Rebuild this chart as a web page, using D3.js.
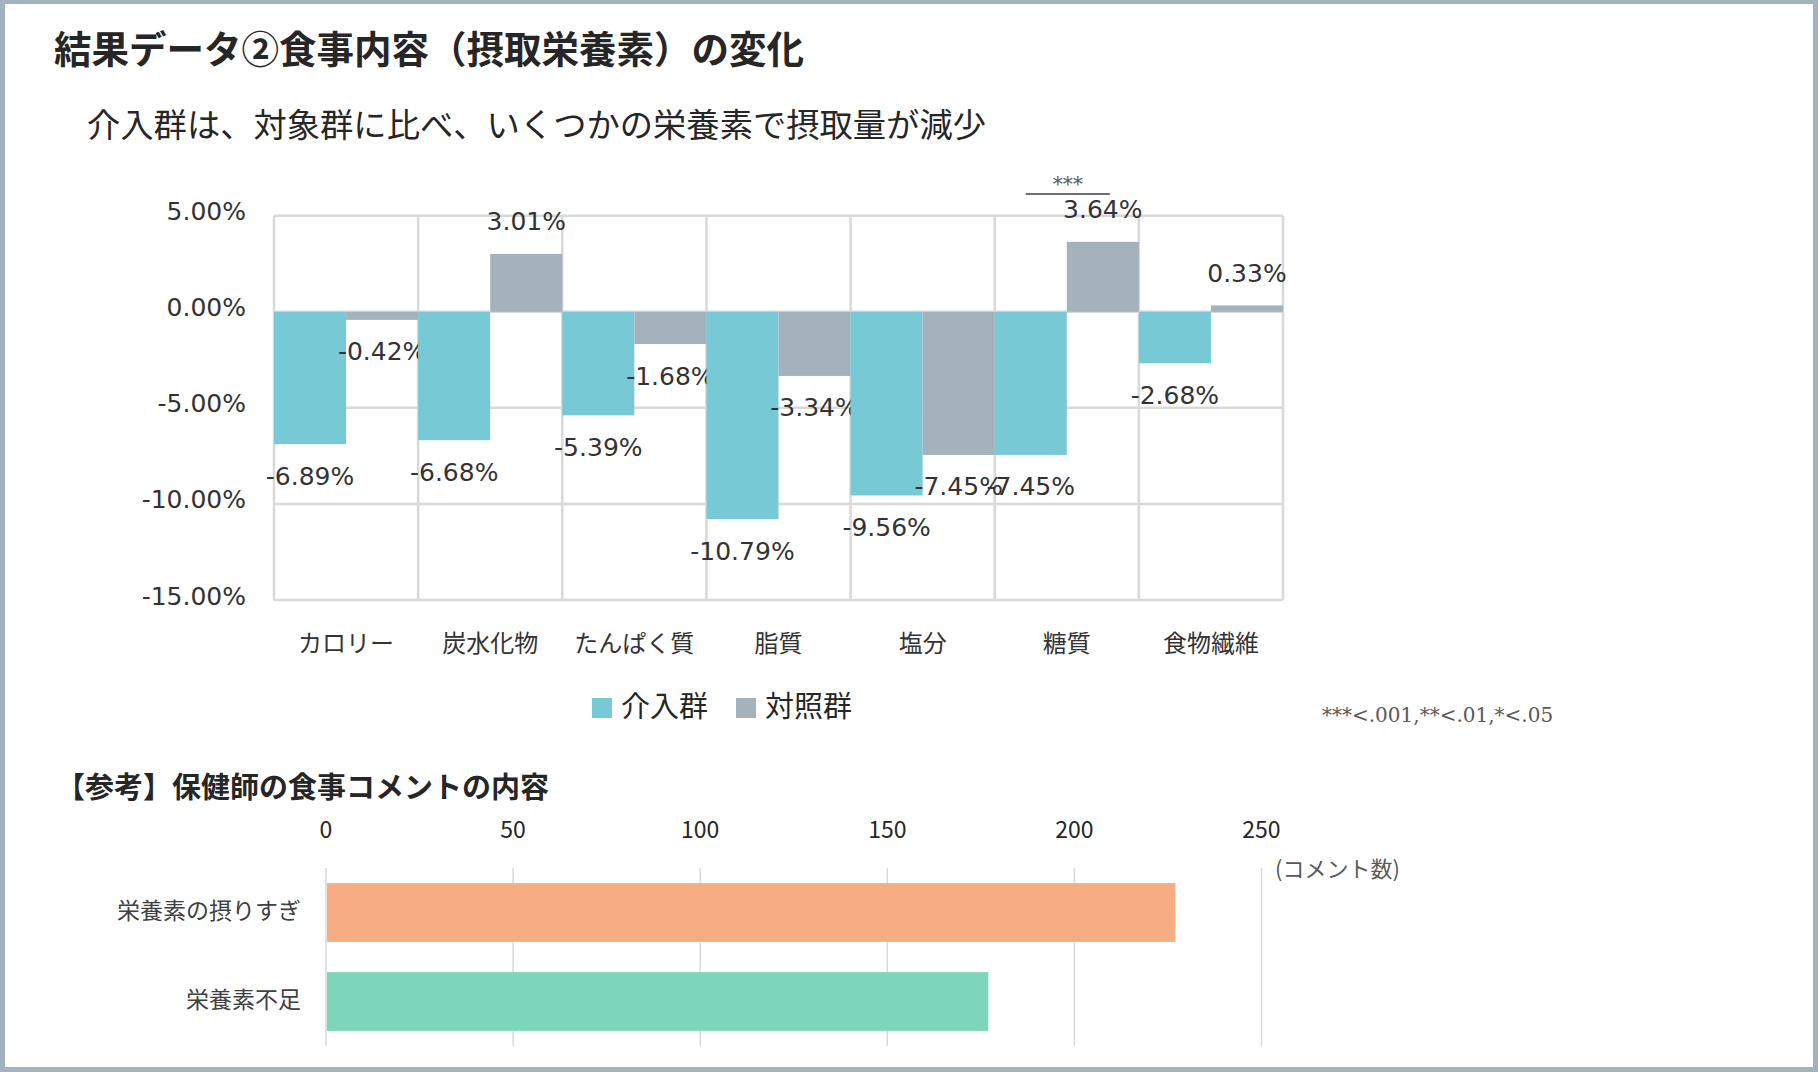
<!DOCTYPE html>
<html>
<head>
<meta charset="utf-8">
<script src="https://cdn.jsdelivr.net/npm/d3@7"></script>
<style>
  html, body { margin: 0; padding: 0; background: #fff; }
  svg { display: block; }
</style>
</head>
<body>
<svg id="chart" width="1818" height="1072"></svg>
<script>
// ---------- DATA ----------
const categories = ["カロリー", "炭水化物", "たんぱく質", "脂質", "塩分", "糖質", "食物繊維"];
const seriesNames = ["介入群", "対照群"];
const interventionValues = [-6.89, -6.68, -5.39, -10.79, -9.56, -7.45, -2.68];
const controlValues = [-0.42, 3.01, -1.68, -3.34, -7.45, 3.64, 0.33];
const yTicks = [5, 0, -5, -10, -15];
const significance = { category: "糖質", mark: "***" };
const footnote = "***<.001,**<.01,*<.05";

const commentCategories = ["栄養素の摂りすぎ", "栄養素不足"];
const commentValues = [227, 177];
const commentTicks = [0, 50, 100, 150, 200, 250];

const titleText = "結果データ②食事内容（摂取栄養素）の変化";
const subtitleText = "介入群は、対象群に比べ、いくつかの栄養素で摂取量が減少";
const section2Title = "【参考】保健師の食事コメントの内容";
const unitLabel = "(コメント数)";

// ---------- STYLE ----------
const CJK = "'Noto Sans CJK JP', 'Noto Sans', sans-serif";
const NUM = "'DejaVu Sans', 'Noto Sans CJK JP', sans-serif";
const SERIF = "'DejaVu Serif', 'Liberation Serif', serif";
const colors = { "介入群": "#78C9D6", "対照群": "#A3B2BC" };
const gridColor = "#D9D9D9";
const textDark = "#262626";

const svg = d3.select("#chart");

// frame
svg.append("rect").attr("x", 0).attr("y", 0).attr("width", 1818).attr("height", 1072).attr("fill", "#A3B3BD");
svg.append("rect").attr("x", 5).attr("y", 4).attr("width", 1808).attr("height", 1063).attr("fill", "#ffffff");

// titles
svg.append("text").attr("x", 54).attr("y", 46).attr("dominant-baseline", "central")
  .attr("font-family", CJK).attr("font-weight", 700).attr("font-size", 37.5).attr("fill", textDark)
  .text(titleText);
svg.append("text").attr("x", 87).attr("y", 122).attr("dominant-baseline", "central")
  .attr("font-family", CJK).attr("font-size", 33.3).attr("fill", textDark)
  .text(subtitleText);

// ---------- MAIN CHART ----------
const plot = { left: 274, right: 1283, top: 215.7, bottom: 600 };
const x0 = d3.scaleBand().domain(categories).range([plot.left, plot.right]).paddingInner(0).paddingOuter(0);
const x1 = d3.scaleBand().domain(seriesNames).range([0, x0.bandwidth()]).padding(0);
const y = d3.scaleLinear().domain([-15, 5]).range([plot.bottom, plot.top]);
const locale = d3.formatLocale({ decimal: ".", thousands: ",", grouping: [3], currency: ["", ""], minus: "-" });
const pct = v => locale.format(".2f")(v) + "%";

const g = svg.append("g");

// horizontal gridlines
g.selectAll("line.hgrid").data(yTicks).join("line")
  .attr("x1", plot.left).attr("x2", plot.right)
  .attr("y1", d => y(d)).attr("y2", d => y(d))
  .attr("stroke", gridColor).attr("stroke-width", 2.5);
// vertical gridlines at category boundaries
const boundaries = categories.map(c => x0(c)).concat([plot.right]);
g.selectAll("line.vgrid").data(boundaries).join("line")
  .attr("x1", d => d).attr("x2", d => d)
  .attr("y1", plot.top).attr("y2", plot.bottom)
  .attr("stroke", gridColor).attr("stroke-width", 2.5);

// y tick labels
g.selectAll("text.ytick").data(yTicks).join("text")
  .attr("x", 246).attr("y", d => y(d) - 4)
  .attr("text-anchor", "end").attr("dominant-baseline", "central")
  .attr("font-family", NUM).attr("font-size", 25).attr("fill", "#333")
  .text(d => pct(d));

// bars
const rows = categories.map((c, i) => ({ cat: c, vals: [
  { s: "介入群", v: interventionValues[i] },
  { s: "対照群", v: controlValues[i] }
]}));
const cg = g.selectAll("g.cat").data(rows).join("g").attr("transform", d => `translate(${x0(d.cat)},0)`);
cg.selectAll("rect").data(d => d.vals).join("rect")
  .attr("x", d => x1(d.s)).attr("width", x1.bandwidth())
  .attr("y", d => y(Math.max(0, d.v))).attr("height", d => Math.abs(y(d.v) - y(0)))
  .attr("fill", d => colors[d.s]);
cg.selectAll("text").data(d => d.vals).join("text")
  .attr("x", d => x1(d.s) + x1.bandwidth() / 2)
  .attr("y", d => d.v < 0 ? y(d.v) + 32 : y(d.v) - 32)
  .attr("text-anchor", "middle").attr("dominant-baseline", "central")
  .attr("font-family", NUM).attr("font-size", 25).attr("fill", "#333")
  .text(d => pct(d.v));

// category labels
g.selectAll("text.xcat").data(categories).join("text")
  .attr("x", d => x0(d) + x0.bandwidth() / 2).attr("y", 641)
  .attr("text-anchor", "middle").attr("dominant-baseline", "central")
  .attr("font-family", CJK).attr("font-size", 24).attr("fill", "#333")
  .text(d => d);

// significance bracket
const sx = x0(significance.category);
const sx1 = sx + x1("介入群") + x1.bandwidth() / 2 - 5;
const sx2 = sx + x1("対照群") + x1.bandwidth() / 2 + 7;
g.append("line").attr("x1", sx1).attr("x2", sx2).attr("y1", 194).attr("y2", 194)
  .attr("stroke", "#404040").attr("stroke-width", 1.5);
g.append("text").attr("x", (sx1 + sx2) / 2).attr("y", 191).attr("text-anchor", "middle")
  .attr("font-family", SERIF).attr("font-size", 20).attr("fill", "#595959")
  .text(significance.mark);

// legend
const legend = g.append("g");
const legendItems = [{ s: "介入群", x: 592 }, { s: "対照群", x: 736 }];
legend.selectAll("rect").data(legendItems).join("rect")
  .attr("x", d => d.x).attr("y", 698).attr("width", 20).attr("height", 20)
  .attr("fill", d => colors[d.s]);
legend.selectAll("text").data(legendItems).join("text")
  .attr("x", d => d.x + 29).attr("y", 704).attr("dominant-baseline", "central")
  .attr("font-family", CJK).attr("font-size", 29).attr("fill", textDark)
  .text(d => d.s);

// footnote
svg.append("text").attr("x", 1322).attr("y", 721.5)
  .attr("font-family", SERIF).attr("font-size", 20).attr("fill", "#595959")
  .text(footnote);

// ---------- SECOND CHART ----------
svg.append("text").attr("x", 56).attr("y", 785).attr("dominant-baseline", "central")
  .attr("font-family", CJK).attr("font-weight", 700).attr("font-size", 29).attr("fill", textDark)
  .text(section2Title);

const p2 = { left: 326, right: 1261.5, top: 868, bottom: 1046 };
const xs = d3.scaleLinear().domain([0, 250]).range([p2.left, p2.right]);
const ys = d3.scaleBand().domain(commentCategories).range([p2.top, p2.bottom]).paddingInner(0.34).paddingOuter(0.17);
const g2 = svg.append("g");

g2.selectAll("line.grid").data(commentTicks).join("line")
  .attr("x1", d => xs(d)).attr("x2", d => xs(d))
  .attr("y1", p2.top).attr("y2", p2.bottom)
  .attr("stroke", "#D9D9D9").attr("stroke-width", 1.5);
g2.selectAll("text.tick").data(commentTicks).join("text")
  .attr("x", d => xs(d)).attr("y", 828)
  .attr("text-anchor", "middle").attr("dominant-baseline", "central")
  .attr("font-family", CJK).attr("font-size", 23).attr("fill", textDark)
  .text(d => d);

const barColors = ["#F8AC84", "#7ED6BA"];
g2.selectAll("rect.bar").data(commentCategories).join("rect")
  .attr("x", xs(0) + 1).attr("y", d => ys(d))
  .attr("width", (d, i) => xs(commentValues[i]) - xs(0) - 1).attr("height", ys.bandwidth())
  .attr("fill", (d, i) => barColors[i]);
g2.selectAll("text.cat").data(commentCategories).join("text")
  .attr("x", 301).attr("y", d => ys(d) + ys.bandwidth() / 2 - 4)
  .attr("text-anchor", "end").attr("dominant-baseline", "central")
  .attr("font-family", CJK).attr("font-size", 23).attr("fill", "#404040")
  .text(d => d);

g2.append("text").attr("x", 1275).attr("y", 867).attr("dominant-baseline", "central")
  .attr("font-family", CJK).attr("font-size", 22).attr("fill", "#595959")
  .text(unitLabel);
</script>
</body>
</html>
